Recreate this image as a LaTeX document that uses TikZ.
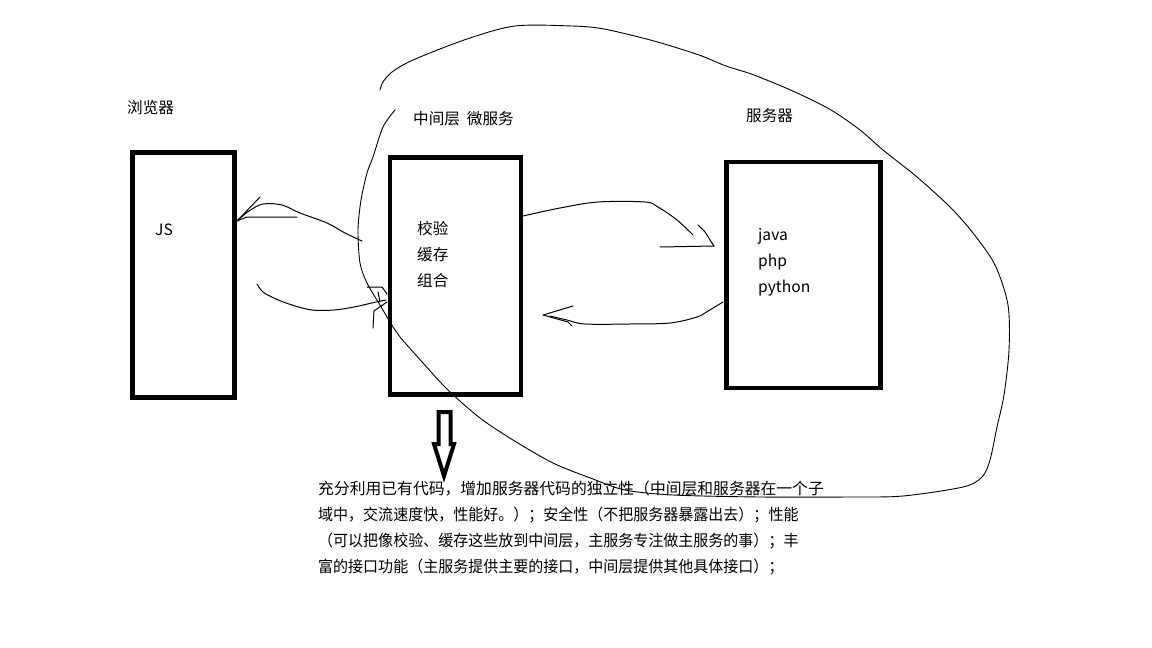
\documentclass[tikz,border=0pt]{standalone}
\usepackage{graphicx}
\usepackage{fontspec}
\newfontfamily\cjk{Noto Sans CJK SC}
\begin{document}
\begin{tikzpicture}[x=1pt,y=-1pt,
  box/.style={draw=black, line width=4.8pt, fill=none, inner sep=0pt, outer sep=0pt},
  lbl/.style={font=\cjk\fontsize{15.6}{18}\selectfont, inner sep=0pt, anchor=base west, text=black},
  pen/.style={draw=black, line width=1pt, line join=round, line cap=round},
  note/.style={font=\cjk\fontsize{15.8}{18}\selectfont, inner sep=0pt, anchor=base west, text=black}]
\useasboundingbox (0,0) rectangle (1152,648);
\fill[white] (0,0) rectangle (1152,648);

% three tiers
\node[box, minimum width=102pt, minimum height=245pt] (browser) at (183.5,275) {};
\node[box, minimum width=131pt, minimum height=237pt] (middle) at (455.5,276) {};
\node[box, minimum width=154pt, minimum height=226pt] (server) at (803.5,275) {};

% titles
\node[lbl] (tb) at (127,113) {浏览器};
\node[lbl] (tm) at (413,124) {中间层\ \ 微服务};
\node[lbl] (ts) at (746,121) {服务器};

% contents of the tiers
\node[lbl] (js) at (155,235) {JS};
\node[lbl] (m1) at (417,234) {校验};
\node[lbl] (m2) at (417,260) {缓存};
\node[lbl] (m3) at (417,286) {组合};
\node[lbl] (s1) at (758,240) {java};
\node[lbl] (s2) at (758,266) {php};
\node[lbl] (s3) at (758,292) {python};

% hand-drawn arrow: middle tier back to the browser
\coordinate (tipB) at (237,221);
\draw[pen] plot[smooth, tension=0.55] coordinates {(362,241) (345,233) (327,223) (300,213) (282,205) (263,204) (249,211) (tipB)};
\draw[pen] (260,197) -- (tipB) -- (247,217) -- (297,217);

% hand-drawn arrow: browser into the middle tier
\coordinate (tipM) at (386,300);
\draw[pen] plot[smooth, tension=0.55] coordinates {(257,284) (263,292) (276,299) (292,305) (312,310) (334,310) (354,307) (376,302) (tipM)};
\draw[pen] (367,287) -- (382,287) -- (387,294);
\draw[pen] (378,292) -- (380,302);
\draw[pen] (387,302) -- (374,311) -- (373,328);

% hand-drawn arrow: middle tier to the server
\coordinate (tipS) at (714,246);
\draw[pen] plot[smooth, tension=0.55] coordinates {(523,216) (560,208) (598,202) (645,202) (658,207) (677,220) (693,235)};
\draw[pen] (660,247) -- (tipS);
\draw[pen] plot[smooth, tension=0.6] coordinates {(698,225) (705,232) (710,240) (tipS)};

% hand-drawn arrow: server back to the middle tier
\coordinate (tipR) at (543,315);
\draw[pen] plot[smooth, tension=0.55] coordinates {(723,302) (708,311) (697,317) (670,323) (630,324) (585,324) (567,320) (550,316)};
\draw[pen] (573,306) -- (tipR) -- (568,322) -- (572,326);

% the loop drawn round middle tier and server
\draw[pen, line width=0.9pt] plot[smooth, tension=0.5] coordinates {
  (395,110) (383,127) (373,157) (367,173) (361,200) (358,230) (360,263) (367,283)
  (380,305) (393,327) (400,337) (423,363) (448,390) (480,418) (513,440) (553,463)
  (593,479) (625,490) (673,495) (760,497) (850,497) (903,496) (963,487) (982,477)
  (990,460) (997,427) (1004,395) (1009,350) (1008,305) (995,265) (973,233) (950,207)
  (917,177) (883,150) (860,130) (831,110) (795,92) (754,75) (726,66) (699,55)
  (654,41) (604,29) (572,26) (515,26) (467,39) (413,60) (392,72) (383,82) (380,90)};

% hollow arrow pointing down to the notes
\draw[black, line width=4pt, miter limit=6] (438.5,412) -- (450.5,412) -- (450.5,444) -- (454,444)
  -- (444,476) -- (434,444) -- (438.5,444) -- cycle;

% notes
\node[note] (n1) at (318,494) {充分利用已有代码，增加服务器代码的独立性（中间层和服务器在一个子};
\node[note] (n2) at (318,520) {\scalebox{0.95}[1]{域中，交流速度快，性能好。）；安全性（不把服务器暴露出去）；性能}};
\node[note] (n3) at (318,546) {\scalebox{0.95}[1]{（可以把像校验、缓存这些放到中间层，主服务专注做主服务的事）；丰}};
\node[note] (n4) at (318,572) {\scalebox{0.95}[1]{富的接口功能（主服务提供主要的接口，中间层提供其他具体接口）；}};
\end{tikzpicture}
\end{document}
